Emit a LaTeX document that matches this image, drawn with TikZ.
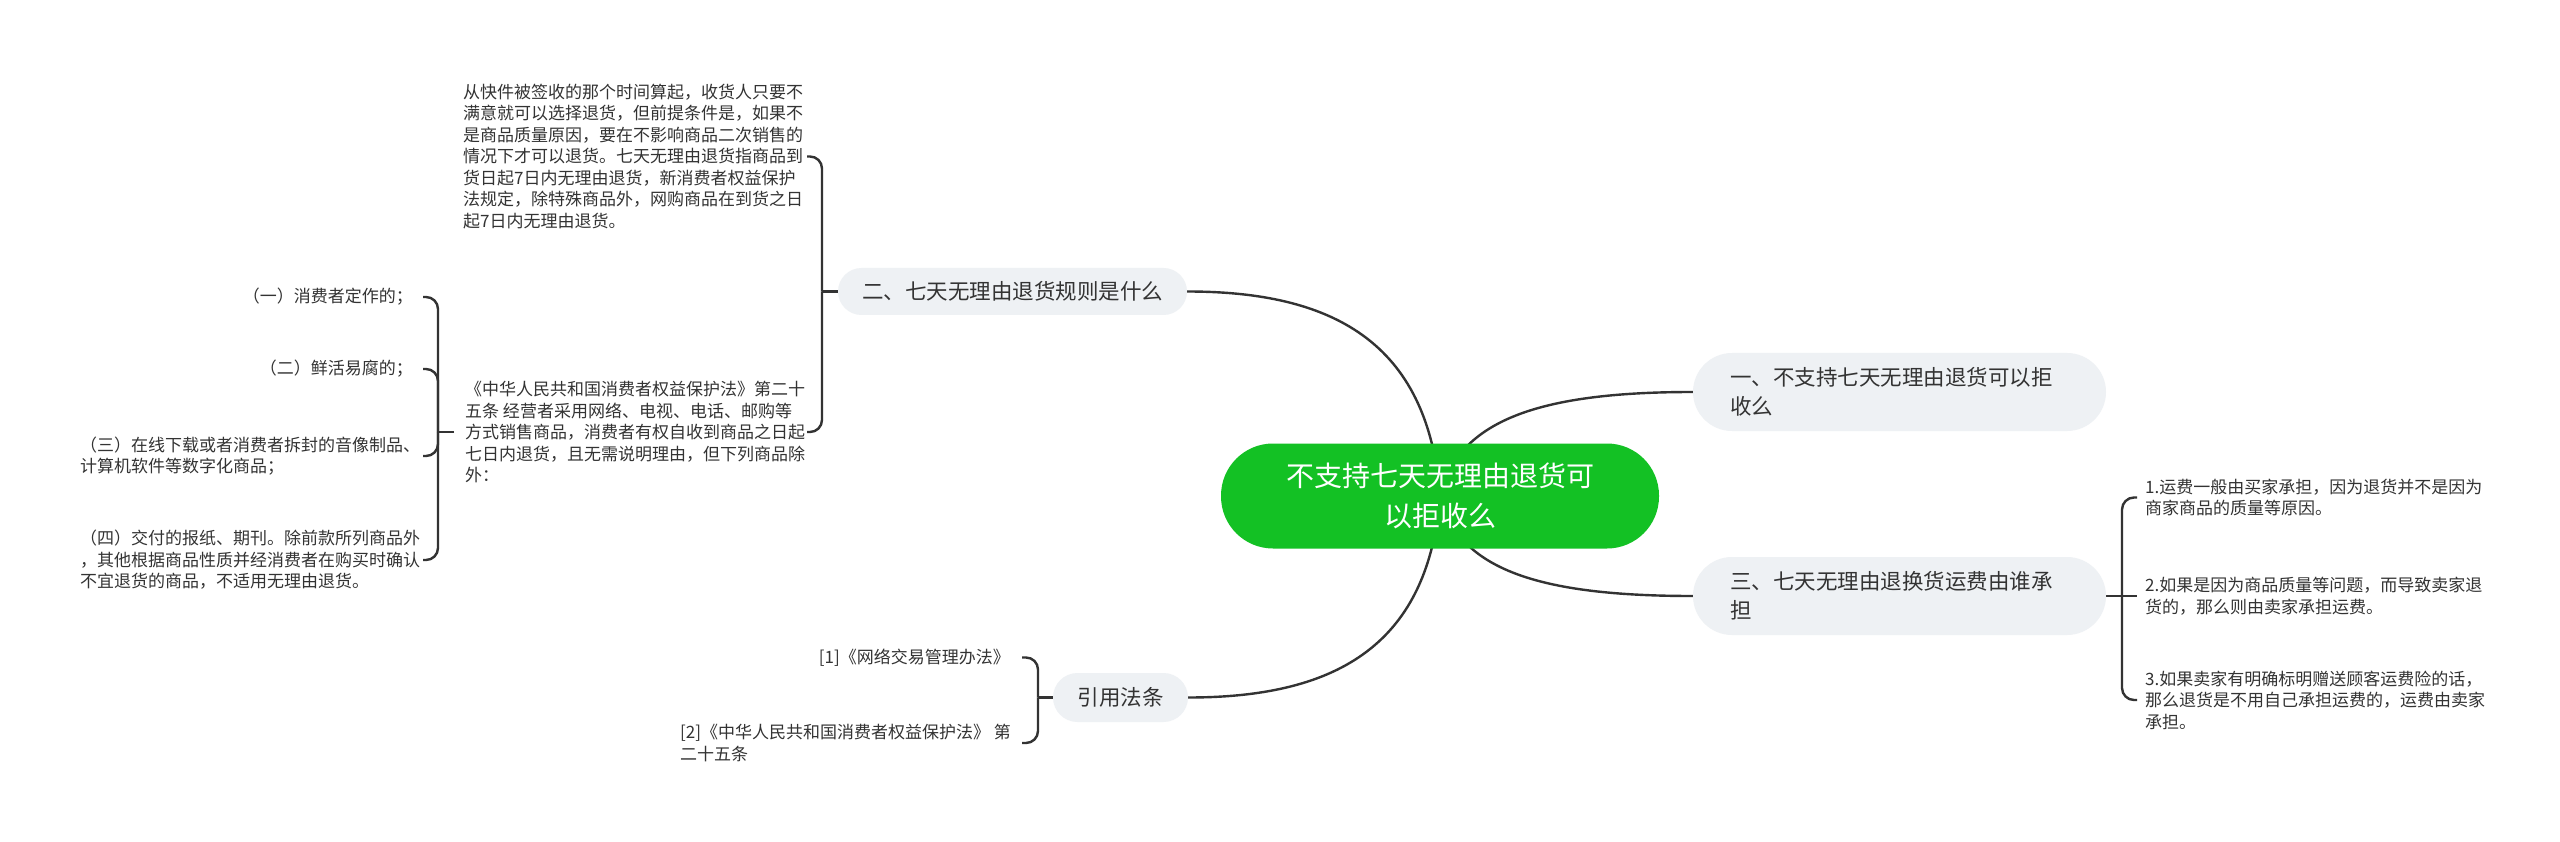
\documentclass[tikz,border=0pt]{standalone}
\usepackage{fontspec}
\setmainfont{Noto Sans CJK SC}
\pgfdeclarelayer{bg}
\pgfsetlayers{bg,main}
\definecolor{rootgreen}{HTML}{13C124}
\definecolor{midfill}{HTML}{EEF1F4}
\definecolor{ink}{HTML}{333333}
\definecolor{linec}{HTML}{333333}
\begin{document}
\begin{tikzpicture}[x=1pt,y=-1pt,
  root/.style={fill=rootgreen, text=white, rounded corners=52pt, minimum width=438pt, minimum height=105pt, inner sep=0pt, align=center, font=\fontsize{28}{40}\selectfont},
  mid/.style={fill=midfill, text=ink, inner sep=0pt, font=\fontsize{21.5}{29}\selectfont},
  leaf/.style={text=ink, inner sep=0pt, align=left, font=\fontsize{17}{21.5}\selectfont},
  link/.style={draw=linec, line width=2.4pt},
  hook/.style={link, rounded corners=12pt}]

\useasboundingbox (0,0) rectangle (2560,842);

% central
\node[root] (c) at (1440,496) {不支持七天无理由退货可\\以拒收么};

% main branches
\node[mid, minimum width=349pt, minimum height=47pt, rounded corners=23.5pt] (er) at (1012.5,291.5) {二、七天无理由退货规则是什么};
\node[mid, text width=339pt, inner xsep=37pt, align=left, minimum height=78pt, rounded corners=39pt] (yi) at (1899.5,392) {一、不支持七天无理由退货可以拒\\收么};
\node[mid, text width=339pt, inner xsep=37pt, align=left, minimum height=78pt, rounded corners=39pt] (san) at (1899.5,596) {三、七天无理由退换货运费由谁承\\担};
\node[mid, minimum width=135pt, minimum height=49pt, rounded corners=24.5pt] (yy) at (1120.5,697.5) {引用法条};

% leaves of er
\node[leaf, anchor=west] (b1) at (463,156.5) {从快件被签收的那个时间算起，收货人只要不\\满意就可以选择退货，但前提条件是，如果不\\是商品质量原因，要在不影响商品二次销售的\\情况下才可以退货。七天无理由退货指商品到\\货日起7日内无理由退货，新消费者权益保护\\法规定，除特殊商品外，网购商品在到货之日\\起7日内无理由退货。};
\node[leaf, anchor=west] (b2) at (465,432) {《中华人民共和国消费者权益保护法》第二十\\五条 经营者采用网络、电视、电话、邮购等\\方式销售商品，消费者有权自收到商品之日起\\七日内退货，且无需说明理由，但下列商品除\\外：};

% leaves of b2
\node[leaf, anchor=east] (i1) at (413,297) {（一）消费者定作的；};
\node[leaf, anchor=east] (i2) at (413,369) {（二）鲜活易腐的；};
\node[leaf, anchor=west] (i3) at (80,456) {（三）在线下载或者消费者拆封的音像制品、\\计算机软件等数字化商品；};
\node[leaf, anchor=west] (i4) at (80,560) {（四）交付的报纸、期刊。除前款所列商品外\\，其他根据商品性质并经消费者在购买时确认\\不宜退货的商品，不适用无理由退货。};

% leaves of san
\node[leaf, anchor=west] (r1) at (2145,497.5) {1.运费一般由买家承担，因为退货并不是因为\\商家商品的质量等原因。};
\node[leaf, anchor=west] (r2) at (2145,596) {2.如果是因为商品质量等问题，而导致卖家退\\货的，那么则由卖家承担运费。};
\node[leaf, anchor=west] (r3) at (2145,700) {3.如果卖家有明确标明赠送顾客运费险的话，\\那么退货是不用自己承担运费的，运费由卖家\\承担。};

% leaves of yy
\node[leaf, anchor=east] (l1) at (1010,657.5) {[1]《网络交易管理办法》};
\node[leaf, anchor=west] (l2) at (680,743) {[2]《中华人民共和国消费者权益保护法》 第\\二十五条};

% bracket coordinates
\coordinate (erX) at (822,0);
\coordinate (erH) at (807,0);
\coordinate (b2X) at (438,0);
\coordinate (b2H) at (423,0);
\coordinate (sanX) at (2122,0);
\coordinate (sanH) at (2137,0);
\coordinate (yyX) at (1038,0);
\coordinate (yyH) at (1022,0);

\begin{pgfonlayer}{bg}
\fill[white] (0,0) rectangle (2560,842);
% central curves
\draw[link] (c.center) .. controls (1428,340) and (1330,291.5) .. (er.east);
\draw[link] (c.center) .. controls (1458,420) and (1540,392) .. (yi.west);
\draw[link] (c.center) .. controls (1458,570) and (1540,596) .. (san.west);
\draw[link] (c.center) .. controls (1428,650) and (1330,697.5) .. (yy.east);

% er bracket
\draw[link] (er.west) -- (er.west -| erX);
\draw[hook] (er.west -| erX) |- (b1.east -| erH);
\draw[hook] (er.west -| erX) |- (b2.east -| erH);

% b2 bracket
\draw[link] ([xshift=-11pt]b2.west) -- (b2.west -| b2X);
\draw[hook] (b2.west -| b2X) |- (i1.east -| b2H);
\draw[hook] (b2.west -| b2X) |- (i2.east -| b2H);
\draw[hook] (b2.west -| b2X) |- (i3.east -| b2H);
\draw[hook] (b2.west -| b2X) |- (i4.east -| b2H);

% san bracket
\draw[link] (san.east) -- (san.east -| sanX);
\draw[hook] (san.east -| sanX) |- (r1.west -| sanH);
\draw[link] (san.east -| sanX) -- (r2.west -| sanH);
\draw[hook] (san.east -| sanX) |- (r3.west -| sanH);

% yy bracket
\draw[link] (yy.west) -- (yy.west -| yyX);
\draw[hook] (yy.west -| yyX) |- (l1.east -| yyH);
\draw[hook] (yy.west -| yyX) |- (l2.east -| yyH);
\end{pgfonlayer}
\end{tikzpicture}
\end{document}
